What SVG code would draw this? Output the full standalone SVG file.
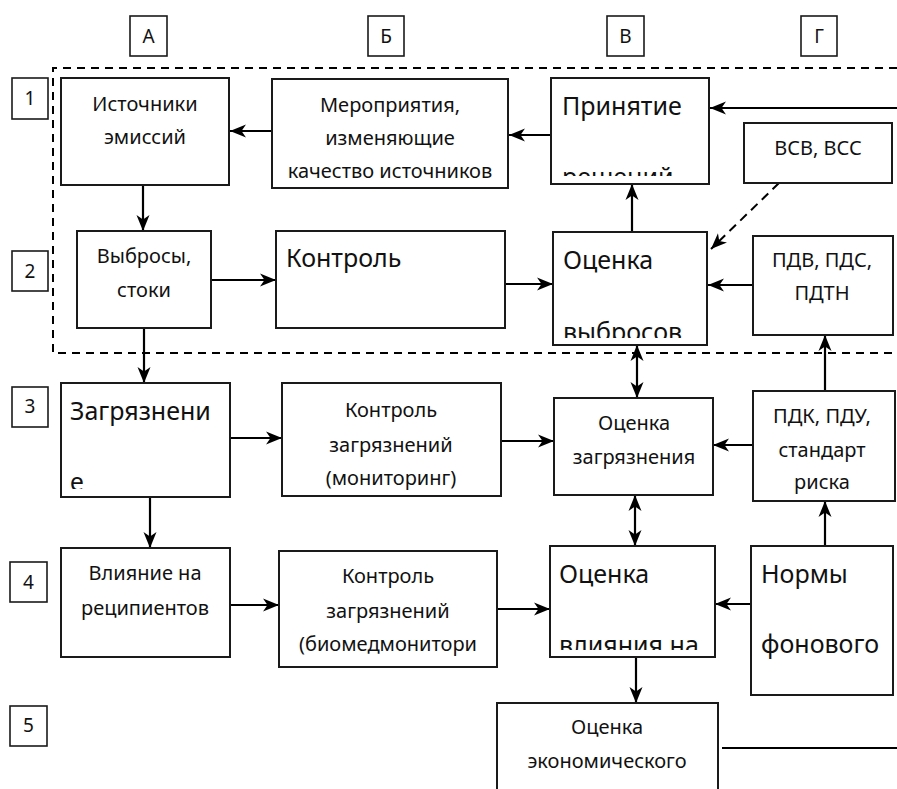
<svg xmlns="http://www.w3.org/2000/svg" width="897" height="789" viewBox="0 0 897 789">
<style>
.box{fill:#fff;stroke:#1a1a1a;stroke-width:2}
.lbl{fill:#fff;stroke:#1a1a1a;stroke-width:1.6}
.t{font-family:"Noto Sans","Open Sans",sans-serif;font-size:20px;fill:#111;text-anchor:middle}
.tb{font-family:"Noto Sans","Open Sans",sans-serif;font-size:25px;fill:#111}
.th{font-family:"Noto Sans","Open Sans",sans-serif;font-size:19px;fill:#111;text-anchor:middle}
.c{stroke:#000;stroke-width:2.2;fill:none}
.d{stroke:#000;stroke-width:2;fill:none;stroke-dasharray:8 6}
</style>
<defs>
<marker id="ah" markerUnits="userSpaceOnUse" markerWidth="17" markerHeight="15" refX="16" refY="7.5" orient="auto-start-reverse">
<path d="M0,1 L16,7.5 L0,14 L4.5,7.5 z" fill="#000"/>
</marker>
<clipPath id="cp1"><rect x="552" y="80" width="156" height="96"/></clipPath>
<clipPath id="cp2"><rect x="554" y="233" width="152" height="105"/></clipPath>
<clipPath id="cp3"><rect x="62" y="384" width="167" height="105"/></clipPath>
<clipPath id="cp4"><rect x="551" y="547" width="163" height="103"/></clipPath>
</defs>
<rect width="897" height="789" fill="#fff"/>

<g id="frame">
<path class="d" d="M897,68 H53 V353 H897"/>
</g>

<g id="headers">
<rect class="lbl" x="130" y="16" width="37" height="40"/><text class="th" x="148.5" y="43">А</text>
<rect class="lbl" x="368" y="16" width="36" height="40"/><text class="th" x="386" y="43">Б</text>
<rect class="lbl" x="607" y="16" width="37" height="40"/><text class="th" x="625.5" y="43">В</text>
<rect class="lbl" x="801" y="16" width="36" height="40"/><text class="th" x="819" y="43">Г</text>
<rect class="lbl" x="12" y="78" width="36" height="41"/><text class="th" x="30" y="105">1</text>
<rect class="lbl" x="12" y="251" width="36" height="40"/><text class="th" x="30" y="278">2</text>
<rect class="lbl" x="12" y="387" width="36" height="40"/><text class="th" x="30" y="413">3</text>
<rect class="lbl" x="10" y="562" width="37" height="40"/><text class="th" x="28.5" y="589">4</text>
<rect class="lbl" x="10" y="706" width="37" height="40"/><text class="th" x="28.5" y="732">5</text>
</g>

<g id="connectors">
<line class="c" x1="551" y1="135" x2="509" y2="135" marker-end="url(#ah)"/>
<line class="c" x1="272" y1="131" x2="230" y2="131" marker-end="url(#ah)"/>
<line class="c" x1="897" y1="108" x2="710" y2="108" marker-end="url(#ah)"/>
<line class="c" x1="143" y1="185" x2="143" y2="231" marker-end="url(#ah)"/>
<line class="c" x1="211" y1="280" x2="276" y2="280" marker-end="url(#ah)"/>
<line class="c" x1="506" y1="284" x2="553" y2="284" marker-end="url(#ah)"/>
<line class="c" x1="632" y1="232" x2="632" y2="184" marker-end="url(#ah)"/>
<line class="d" x1="779" y1="183" x2="711" y2="249" marker-end="url(#ah)" style="stroke-dasharray:9 6"/>
<line class="c" x1="753" y1="285" x2="708" y2="285" marker-end="url(#ah)"/>
<line class="c" x1="144" y1="328" x2="144" y2="383" marker-end="url(#ah)"/>
<line class="c" x1="637" y1="345" x2="637" y2="398" marker-start="url(#ah)" marker-end="url(#ah)"/>
<line class="c" x1="825" y1="391" x2="825" y2="335" marker-end="url(#ah)"/>
<line class="c" x1="228" y1="438" x2="282" y2="438" marker-end="url(#ah)"/>
<line class="c" x1="501" y1="441" x2="554" y2="441" marker-end="url(#ah)"/>
<line class="c" x1="753" y1="445" x2="713" y2="445" marker-end="url(#ah)"/>
<line class="c" x1="150" y1="497" x2="150" y2="548" marker-end="url(#ah)"/>
<line class="c" x1="635" y1="495" x2="635" y2="546" marker-start="url(#ah)" marker-end="url(#ah)"/>
<line class="c" x1="825" y1="546" x2="825" y2="501" marker-end="url(#ah)"/>
<line class="c" x1="228" y1="605" x2="279" y2="605" marker-end="url(#ah)"/>
<line class="c" x1="497" y1="609" x2="550" y2="609" marker-end="url(#ah)"/>
<line class="c" x1="751" y1="604" x2="715" y2="604" marker-end="url(#ah)"/>
<line class="c" x1="636" y1="657" x2="636" y2="703" marker-end="url(#ah)"/>
<line class="c" x1="722" y1="748" x2="897" y2="748"/>
</g>

<g id="n-istochniki">
<rect class="box" x="61" y="78" width="168" height="107"/>
<text class="t" x="145" y="111">Источники</text>
<text class="t" x="145" y="144">эмиссий</text>
</g>
<g id="n-meropriyatiya">
<rect class="box" x="272" y="79" width="236" height="109"/>
<text class="t" x="390" y="112">Мероприятия,</text>
<text class="t" x="390" y="145">изменяющие</text>
<text class="t" x="390" y="178">качество источников</text>
</g>
<g id="n-prinyatie">
<rect class="box" x="551" y="78" width="158" height="106"/>
<g clip-path="url(#cp1)">
<text class="tb" x="562" y="115">Принятие</text>
<text class="tb" x="562" y="186">решений</text>
</g>
</g>
<g id="n-vsv">
<rect class="box" x="744" y="123" width="148" height="60"/>
<text class="t" x="818" y="155">ВСВ, ВСС</text>
</g>
<g id="n-vybrosy">
<rect class="box" x="77" y="231" width="134" height="97"/>
<text class="t" x="144" y="263">Выбросы,</text>
<text class="t" x="144" y="297">стоки</text>
</g>
<g id="n-kontrol">
<rect class="box" x="276" y="231" width="229" height="97"/>
<text class="tb" x="286" y="267">Контроль</text>
</g>
<g id="n-ocenka-vybrosov">
<rect class="box" x="553" y="232" width="154" height="113"/>
<g clip-path="url(#cp2)">
<text class="tb" x="563" y="269">Оценка</text>
<text class="tb" x="563" y="341">выбросов</text>
</g>
</g>
<g id="n-pdv">
<rect class="box" x="753" y="236" width="140" height="99"/>
<text class="t" x="822" y="267">ПДВ, ПДС,</text>
<text class="t" x="822" y="300">ПДТН</text>
</g>
<g id="n-zagryaznenie">
<rect class="box" x="61" y="383" width="169" height="114"/>
<g clip-path="url(#cp3)">
<text class="tb" x="70" y="420">Загрязнени</text>
<text class="tb" x="70" y="491">е</text>
</g>
</g>
<g id="n-kontrol-monitoring">
<rect class="box" x="282" y="383" width="219" height="113"/>
<text class="t" x="391" y="417">Контроль</text>
<text class="t" x="391" y="452">загрязнений</text>
<text class="t" x="391" y="485">(мониторинг)</text>
</g>
<g id="n-ocenka-zagryazneniya">
<rect class="box" x="554" y="398" width="159" height="97"/>
<text class="t" x="634" y="430">Оценка</text>
<text class="t" x="634" y="464">загрязнения</text>
</g>
<g id="n-pdk">
<rect class="box" x="753" y="391" width="142" height="110"/>
<text class="t" x="822" y="423">ПДК, ПДУ,</text>
<text class="t" x="822" y="457">стандарт</text>
<text class="t" x="822" y="489">риска</text>
</g>
<g id="n-vliyanie">
<rect class="box" x="61" y="548" width="169" height="109"/>
<text class="t" x="145" y="580">Влияние на</text>
<text class="t" x="145" y="615">реципиентов</text>
</g>
<g id="n-kontrol-biomed">
<rect class="box" x="279" y="551" width="218" height="116"/>
<text class="t" x="388" y="583">Контроль</text>
<text class="t" x="388" y="618">загрязнений</text>
<text class="t" x="388" y="651">(биомедмонитори</text>
</g>
<g id="n-ocenka-vliyaniya">
<rect class="box" x="550" y="546" width="165" height="111"/>
<g clip-path="url(#cp4)">
<text class="tb" x="559" y="583">Оценка</text>
<text class="tb" x="559" y="654">влияния на</text>
</g>
</g>
<g id="n-normy">
<rect class="box" x="751" y="546" width="142" height="149"/>
<text class="tb" x="761" y="583">Нормы</text>
<text class="tb" x="761" y="653">фонового</text>
</g>
<g id="n-ekonom">
<path class="box" d="M497,790 V703 H718 V790"/>
<text class="t" x="607" y="734">Оценка</text>
<text class="t" x="607" y="768">экономического</text>
</g>
</svg>
